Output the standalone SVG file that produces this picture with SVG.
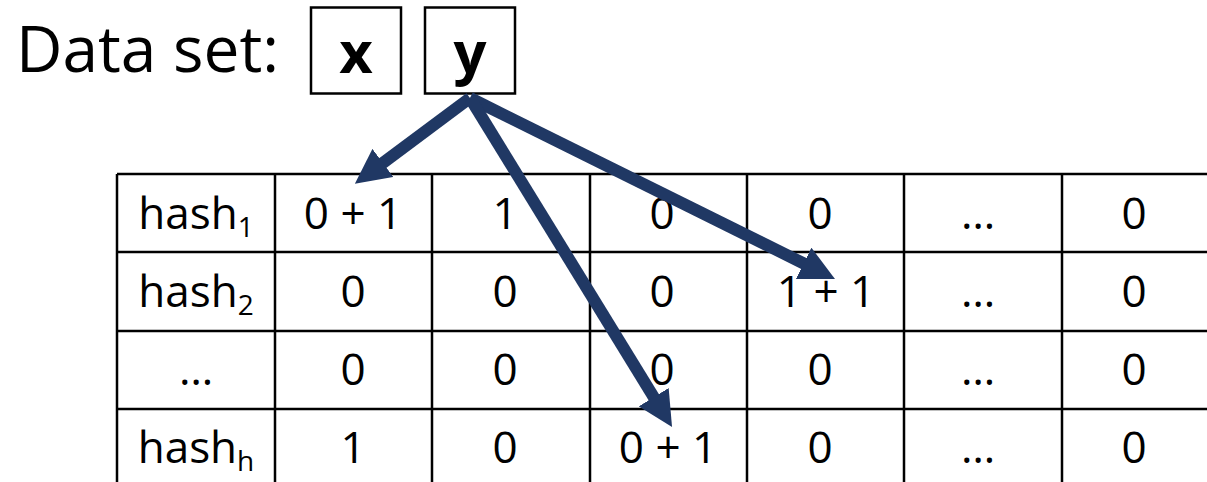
<svg xmlns="http://www.w3.org/2000/svg" width="1207" height="482" viewBox="0 0 1207 482">
<style>
text{font-family:"Open Sans","Liberation Sans",sans-serif;fill:#000}
.t{font-size:44px;text-anchor:middle}
.sub{font-size:28px}
.box{fill:#fff;stroke:#000;stroke-width:2.5}
.grid{stroke:#000;stroke-width:2.5;fill:none}
.arr{stroke:#203864;stroke-width:12;fill:none;marker-end:url(#ah)}
</style>
<defs>
<marker id="ah" markerUnits="userSpaceOnUse" viewBox="0 0 35 35" markerWidth="35" markerHeight="35" refX="7" refY="17.5" orient="auto">
<path d="M0,0 L35,17.5 L0,35 z" fill="#203864"/>
</marker>
</defs>
<rect width="1207" height="482" fill="#fff"/>
<g id="title"><text x="16" y="72" font-size="64">Data set:</text></g>
<g id="node-x"><rect class="box" x="311" y="7.5" width="90" height="86"/><text x="356" y="72.5" font-size="58" font-weight="bold" text-anchor="middle">x</text></g>
<g id="node-y"><rect class="box" x="425" y="7.5" width="90" height="86"/><text x="470" y="72.5" font-size="58" font-weight="bold" text-anchor="middle">y</text></g>
<g id="table">
<path class="grid" d="M117,174H1207M117,252H1207M117,331H1207M117,409H1207M117,174V482M275,174V482M432,174V482M590,174V482M747,174V482M904,174V482M1062,174V482"/>
<text class="t" x="196" y="229">hash<tspan class="sub" dy="8">1</tspan></text>
<text class="t" x="196" y="307">hash<tspan class="sub" dy="8">2</tspan></text>
<text class="t" x="196" y="385">…</text>
<text class="t" x="196" y="463">hash<tspan class="sub" dy="8">h</tspan></text>
<text class="t" x="353" y="229">0 + 1</text>
<text class="t" x="353" y="307">0</text>
<text class="t" x="353" y="385">0</text>
<text class="t" x="353" y="463">1</text>
<text class="t" x="505" y="229">1</text>
<text class="t" x="505" y="307">0</text>
<text class="t" x="505" y="385">0</text>
<text class="t" x="505" y="463">0</text>
<text class="t" x="662" y="229">0</text>
<text class="t" x="662" y="307">0</text>
<text class="t" x="662" y="385">0</text>
<text class="t" x="668" y="463">0 + 1</text>
<text class="t" x="820" y="229">0</text>
<text class="t" x="826" y="307">1 + 1</text>
<text class="t" x="820" y="385">0</text>
<text class="t" x="820" y="463">0</text>
<text class="t" x="978" y="229">…</text>
<text class="t" x="978" y="307">…</text>
<text class="t" x="978" y="385">…</text>
<text class="t" x="978" y="463">…</text>
<text class="t" x="1134" y="229">0</text>
<text class="t" x="1134" y="307">0</text>
<text class="t" x="1134" y="385">0</text>
<text class="t" x="1134" y="463">0</text>
</g>
<g id="connectors">
<line class="arr" x1="470" y1="98" x2="377.3" y2="167.1"/>
<line class="arr" x1="470" y1="98" x2="809.9" y2="266.5"/>
<line class="arr" x1="470" y1="98" x2="657.4" y2="403.1"/>
</g>
</svg>
